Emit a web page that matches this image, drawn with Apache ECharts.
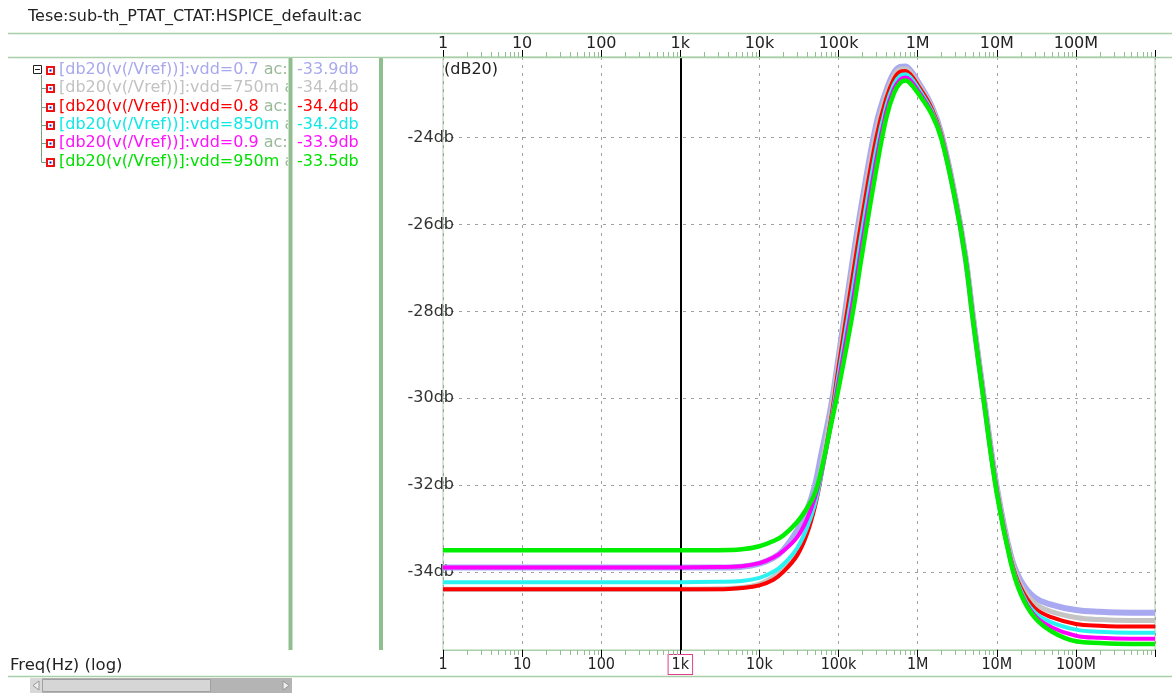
<!DOCTYPE html>
<html><head><meta charset="utf-8">
<script src="https://cdn.jsdelivr.net/npm/echarts@6/dist/echarts.min.js"></script>
<style>html,body{margin:0;padding:0;background:#fff}#c{width:1172px;height:693px}</style>
</head><body><div id="c"></div>
<script>
// ---------- data ----------
const freqs = [1, 10, 100, 1000, 3000, 6000, 10000, 15000, 20000, 30000, 40000, 50000, 60000, 80000,
  100000, 150000, 200000, 300000, 400000, 500000, 600000, 700000, 800000, 1000000, 1500000, 2000000,
  3000000, 4000000, 5000000, 7000000, 10000000, 15000000, 20000000, 30000000, 50000000, 100000000,
  200000000, 500000000, 1000000000];
const vdd07 = [-33.9, -33.9, -33.9, -33.9, -33.9, -33.88, -33.81, -33.68, -33.5, -33.05, -32.58, -32.03, -31.33, -30.21, -29.06, -26.86, -25.44, -23.69, -22.92, -22.51, -22.37, -22.36, -22.44, -22.7, -23.27, -23.92, -25.4, -26.72, -28.12, -30.1, -32.05, -33.62, -34.2, -34.59, -34.76, -34.88, -34.92, -34.94, -34.94];
const vdd750m = [-34.4, -34.4, -34.4, -34.4, -34.39, -34.36, -34.28, -34.12, -33.92, -33.5, -32.98, -32.4, -31.65, -30.35, -29.17, -27.04, -25.62, -23.85, -23.01, -22.58, -22.42, -22.41, -22.48, -22.74, -23.3, -23.94, -25.41, -26.73, -28.13, -30.12, -32.08, -33.66, -34.3, -34.72, -34.92, -35.05, -35.1, -35.12, -35.12];
const vdd08 = [-34.4, -34.4, -34.4, -34.4, -34.4, -34.37, -34.31, -34.18, -34.0, -33.62, -33.12, -32.52, -31.82, -30.5, -29.28, -27.22, -25.8, -24.0, -23.1, -22.65, -22.48, -22.46, -22.53, -22.78, -23.32, -23.95, -25.42, -26.74, -28.15, -30.14, -32.1, -33.7, -34.36, -34.83, -35.05, -35.2, -35.24, -35.26, -35.26];
const vdd850m = [-34.24, -34.24, -34.24, -34.24, -34.23, -34.21, -34.14, -34.0, -33.83, -33.45, -32.98, -32.45, -31.8, -30.58, -29.46, -27.53, -26.1, -24.26, -23.27, -22.77, -22.57, -22.54, -22.6, -22.84, -23.37, -23.98, -25.43, -26.75, -28.16, -30.16, -32.13, -33.73, -34.42, -34.93, -35.17, -35.33, -35.38, -35.4, -35.4];
const vdd09 = [-33.9, -33.9, -33.9, -33.9, -33.89, -33.87, -33.8, -33.67, -33.52, -33.2, -32.78, -32.3, -31.74, -30.62, -29.62, -27.8, -26.38, -24.5, -23.41, -22.88, -22.66, -22.61, -22.67, -22.9, -23.41, -24.0, -25.44, -26.76, -28.18, -30.17, -32.16, -33.76, -34.47, -35.0, -35.28, -35.47, -35.52, -35.54, -35.54];
const vdd950m = [-33.5, -33.5, -33.5, -33.5, -33.5, -33.48, -33.41, -33.29, -33.16, -32.85, -32.53, -32.2, -31.69, -30.63, -29.78, -28.07, -26.64, -24.73, -23.55, -22.98, -22.74, -22.68, -22.74, -22.96, -23.45, -24.03, -25.46, -26.77, -28.2, -30.19, -32.19, -33.78, -34.5, -35.05, -35.38, -35.6, -35.64, -35.66, -35.66];

const seriesNames = ['[db20(v(/Vref))]:vdd=0.7', '[db20(v(/Vref))]:vdd=750m', '[db20(v(/Vref))]:vdd=0.8',
  '[db20(v(/Vref))]:vdd=850m', '[db20(v(/Vref))]:vdd=0.9', '[db20(v(/Vref))]:vdd=950m'];
const seriesValues = [vdd07, vdd750m, vdd08, vdd850m, vdd09, vdd950m];
const cursorReadouts = ['-33.9db', '-34.4db', '-34.4db', '-34.2db', '-33.9db', '-33.5db'];
const cursorFreq = 1000;
const cursorLabel = '1k';

const xTickValues = [1, 10, 100, 1000, 10000, 100000, 1000000, 10000000, 100000000];
const xTickLabels = ['1', '10', '100', '1k', '10k', '100k', '1M', '10M', '100M'];
const yTickValues = [-34, -32, -30, -28, -26, -24];
const yTickLabels = ['-34db', '-32db', '-30db', '-28db', '-26db', '-24db'];

const titleText = 'Tese:sub-th_PTAT_CTAT:HSPICE_default:ac';
const xAxisTitle = 'Freq(Hz) (log)';
const yUnit = '(dB20)';

// ---------- styles ----------
const lineColors = ['#a9a9f2', '#c4c4c4', '#ff0000', '#2af2f2', '#ff00ff', '#00ee00'];
const textColors = ['#a8a8ee', '#c2c2c2', '#ff0000', '#10e8e8', '#ff10ff', '#00e000'];
const lineWidths = [6, 5, 4, 4, 4, 4.5];
const FONT = '"DejaVu Sans", sans-serif';
const FONT_C = '"DejaVu Sans Condensed", "Liberation Sans Narrow", "DejaVu Sans", sans-serif';
const FS = 16;
const PANEL = '#8fbf8f';
const THIN = '#a9cfa9';
const TREE = '#7d9b7d';

const xMin = 1, xMax = 1e9, yMin = -35.8, yMax = -22.14;

// minor tick positions (2..9 per decade)
const minorTicks = [];
for (let d = 0; d < 9; d++) for (let m = 2; m <= 9; m++) minorTicks.push(m * Math.pow(10, d));

function xLabel(v) {
  const i = xTickValues.findIndex(t => Math.abs(t - v) / t < 1e-6);
  return i >= 0 ? xTickLabels[i] : '';
}
function xLabelBottom(v) {
  if (Math.abs(v - cursorFreq) / cursorFreq < 1e-6) return '';
  return xLabel(v);
}
function yLabel(v) {
  const i = yTickValues.findIndex(t => Math.abs(t - v) < 1e-6);
  return i >= 0 ? yTickLabels[i] : '';
}

const chart = echarts.init(document.getElementById('c'), null, { renderer: 'canvas' });

const series = seriesValues.map((vals, i) => ({
  name: seriesNames[i],
  type: 'line',
  xAxisIndex: 0, yAxisIndex: 0,
  data: freqs.map((f, k) => [f, vals[k]]),
  showSymbol: false,
  smooth: 0.4,
  lineStyle: { color: lineColors[i], width: lineWidths[i] },
  itemStyle: { color: lineColors[i] },
  z: 3 + i,
  silent: true
}));

series.push({
  type: 'custom',
  xAxisIndex: 0, yAxisIndex: 0,
  silent: true, clip: false, z: 10,
  data: minorTicks.map(v => [v, yMin]),
  renderItem: function (params, api) {
    const v = api.value(0);
    const top = api.coord([v, yMax]);
    const bot = api.coord([v, yMin]);
    const x = Math.round(top[0]) + 0.5;
    return {
      type: 'group',
      children: [
        { type: 'line', shape: { x1: x, y1: top[1], x2: x, y2: top[1] - 5 }, style: { stroke: PANEL, lineWidth: 1 } },
        { type: 'line', shape: { x1: x, y1: bot[1], x2: x, y2: bot[1] + 5 }, style: { stroke: PANEL, lineWidth: 1 } }
      ]
    };
  }
});

// cursor line
series.push({
  type: 'line', xAxisIndex: 0, yAxisIndex: 0, data: [], z: 20, silent: true,
  markLine: {
    silent: true, symbol: 'none', animation: false,
    lineStyle: { color: '#000', width: 2, type: 'solid' },
    label: {
      show: true, position: 'start', formatter: cursorLabel, distance: 5,
      color: '#222', fontFamily: FONT_C, fontSize: FS,
      backgroundColor: '#fff', borderColor: '#e0408a', borderWidth: 1, padding: [2, 3, 1, 3]
    },
    data: [{ xAxis: cursorFreq }]
  }
});

// ---------- graphic: panel decorations ----------
const g = [];
g.push({ type: 'text', z: 50, style: { text: titleText, x: 28, y: 17, font: FS + 'px ' + FONT, fill: '#222', verticalAlign: 'middle' } });
[33, 57, 676].forEach(y => g.push({ type: 'line', z: 50, shape: { x1: 8, y1: y + 0.5, x2: 1172, y2: y + 0.5 }, style: { stroke: THIN, lineWidth: 1.5 } }));
g.push({ type: 'text', z: 50, style: { text: yUnit, x: 444, y: 70, font: FS + 'px ' + FONT, fill: '#222', verticalAlign: 'middle' } });
g.push({ type: 'text', z: 50, style: { text: xAxisTitle, x: 10, y: 666, font: '16.5px ' + FONT, fill: '#222', verticalAlign: 'middle' } });

const rowY0 = 70, rowDY = 18.33;
// tree
g.push({ type: 'rect', z: 50, shape: { x: 33.5, y: 65.5, width: 8, height: 8 }, style: { fill: '#fff', stroke: '#222', lineWidth: 1 } });
g.push({ type: 'line', z: 50, shape: { x1: 35, y1: 69.5, x2: 40, y2: 69.5 }, style: { stroke: '#222', lineWidth: 1 } });
g.push({ type: 'line', z: 50, shape: { x1: 41.5, y1: 75, x2: 41.5, y2: Math.round(rowY0 + rowDY * 5) + 0.5 }, style: { stroke: TREE, lineWidth: 1 } });
seriesNames.forEach((name, i) => {
  const y = rowY0 + rowDY * i;
  if (i > 0) g.push({ type: 'line', z: 50, shape: { x1: 41.5, y1: Math.round(y) + 0.5, x2: 46, y2: Math.round(y) + 0.5 }, style: { stroke: TREE, lineWidth: 1 } });
  const yy = Math.round(y) - 4;
  g.push({ type: 'rect', z: 50, shape: { x: 46, y: yy, width: 9, height: 9 }, style: { fill: '#ee1111' } });
  g.push({ type: 'rect', z: 51, shape: { x: 48, y: yy + 2, width: 5, height: 5 }, style: { fill: '#fff' } });
  g.push({ type: 'rect', z: 52, shape: { x: 49.5, y: yy + 3.5, width: 2, height: 2 }, style: { fill: '#1020c0' } });
  g.push({ type: 'text', z: 50, style: {
    text: '{n|' + name + '}{a| ac:}', x: 59, y: y, verticalAlign: 'middle', font: FS + 'px ' + FONT,
    rich: { n: { fill: textColors[i], font: FS + 'px ' + FONT }, a: { fill: '#9ab99a', font: FS + 'px ' + FONT } }
  } });
  g.push({ type: 'text', z: 60, style: { text: cursorReadouts[i], x: 297, y: y, verticalAlign: 'middle', font: FS + 'px ' + FONT, fill: textColors[i] } });
});
g.push({ type: 'rect', z: 55, shape: { x: 288, y: 58, width: 92, height: 120 }, style: { fill: '#fff' } });
g.push({ type: 'rect', z: 56, shape: { x: 288.5, y: 58, width: 4, height: 592 }, style: { fill: PANEL } });
g.push({ type: 'rect', z: 56, shape: { x: 379, y: 58, width: 4, height: 592 }, style: { fill: PANEL } });
// scrollbar
g.push({ type: 'rect', z: 50, shape: { x: 30, y: 678, width: 262, height: 15 }, style: { fill: '#b4b4b4' } });
g.push({ type: 'rect', z: 51, shape: { x: 30, y: 678, width: 12, height: 15 }, style: { fill: '#d8d8d8' } });
g.push({ type: 'rect', z: 51, shape: { x: 42.5, y: 679.5, width: 168, height: 12 }, style: { fill: '#d6d6d6', stroke: '#a0a0a0', lineWidth: 1 } });
g.push({ type: 'polygon', z: 52, shape: { points: [[39, 681], [39, 690], [33, 685.5]] }, style: { fill: '#eee', stroke: '#999', lineWidth: 1 } });
g.push({ type: 'polygon', z: 52, shape: { points: [[283, 681], [283, 690], [289, 685.5]] }, style: { fill: '#eee', stroke: '#999', lineWidth: 1 } });

const option = {
  animation: false,
  backgroundColor: '#fff',
  grid: { left: 443, right: 17, top: 57, bottom: 43, show: true, borderColor: THIN, borderWidth: 1, outerBoundsMode: 'none' },
  xAxis: [
    {
      type: 'log', logBase: 10, min: xMin, max: xMax, position: 'bottom', splitNumber: 10,
      axisLine: { show: true, lineStyle: { color: THIN, width: 1 } },
      axisTick: { show: true, length: 7, lineStyle: { color: '#000', width: 1 } },
      axisLabel: { formatter: xLabelBottom, margin: 7, color: '#222', fontFamily: FONT_C, fontSize: FS, hideOverlap: false },
      splitLine: { show: true, lineStyle: { color: '#a0a0a0', type: [3, 5], width: 1 } },
      minorTick: { show: false }
    },
    {
      type: 'log', logBase: 10, min: xMin, max: xMax, position: 'top', splitNumber: 10,
      axisLine: { show: false },
      axisTick: { show: true, length: 7, lineStyle: { color: '#000', width: 1 } },
      axisLabel: { formatter: xLabel, margin: 5, color: '#222', fontFamily: FONT, fontSize: FS, hideOverlap: false },
      splitLine: { show: false }
    }
  ],
  yAxis: [{
    type: 'value', min: yMin, max: yMax, position: 'left',
    axisLine: { show: false },
    axisTick: { show: false, customValues: yTickValues },
    axisLabel: { customValues: yTickValues, formatter: yLabel, margin: -11, color: '#333', fontFamily: FONT, fontSize: FS },
    splitLine: { show: true, lineStyle: { color: '#a0a0a0', type: [3, 5], width: 1 } }
  }],
  series: series,
  graphic: { elements: g }
};
chart.setOption(option);
</script>
</body></html>
